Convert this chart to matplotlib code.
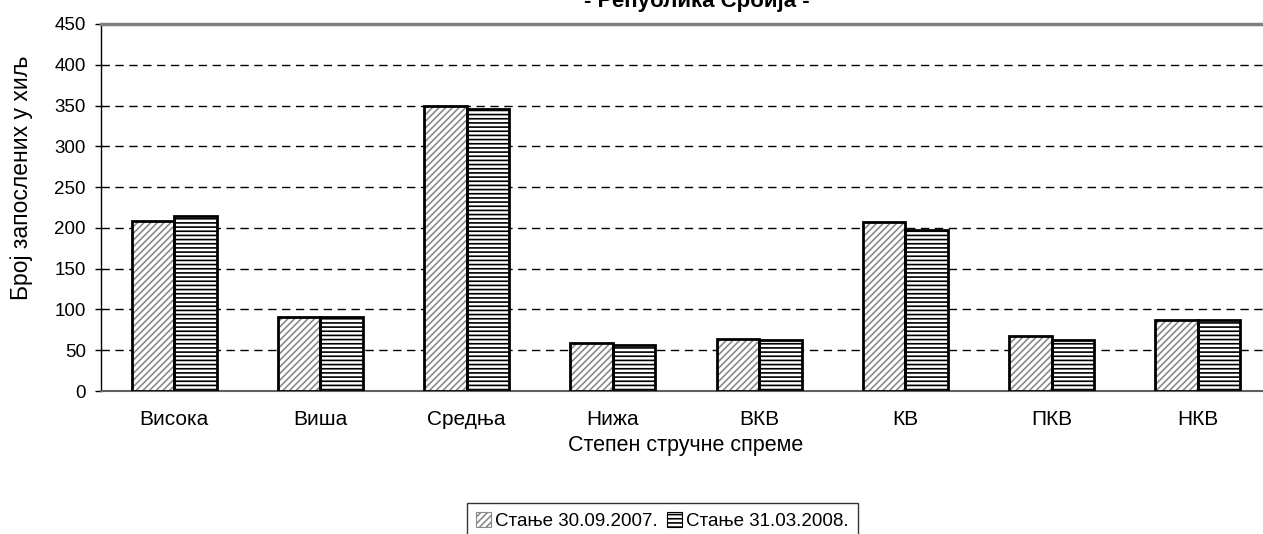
import numpy as np
import matplotlib
matplotlib.use('Agg')
import matplotlib.pyplot as plt
from matplotlib.patches import Patch

plt.rcParams['font.family'] = ['Liberation Sans', 'DejaVu Sans']

# ----------------------------------------------------------------
# Data
# ----------------------------------------------------------------
categories = ['Висока', 'Виша', 'Средња', 'Нижа', 'ВКВ', 'КВ', 'ПКВ', 'НКВ']
stanje_2007 = [209, 91, 349, 59, 64, 207, 68, 87]
stanje_2008 = [215, 91, 346, 56, 62, 198, 62, 87]
series_labels = ['Стање 30.09.2007.', 'Стање 31.03.2008.']
yticks = [0, 50, 100, 150, 200, 250, 300, 350, 400, 450]

W, H = 1263, 534
fig = plt.figure(figsize=(W / 100, H / 100), dpi=100)
ax = fig.add_axes([101 / W, 1 - 391 / H, 1170 / W, 367 / H])

x = np.arange(len(categories))
bw = 0.29

plt.rcParams['hatch.linewidth'] = 1.2

# first series: fine diagonal gray hatch, black outline
ax.bar(x - bw / 2, stanje_2007, bw, color='white', edgecolor='#8a8a8a',
       hatch='/////', linewidth=0, zorder=3)
ax.bar(x - bw / 2, stanje_2007, bw, fill=False, edgecolor='black',
       linewidth=2, zorder=4)
# second series: horizontal black lines
ax.bar(x + bw / 2, stanje_2008, bw, color='white', edgecolor='black',
       hatch='----', linewidth=0, zorder=3)
ax.bar(x + bw / 2, stanje_2008, bw, fill=False, edgecolor='black',
       linewidth=2, zorder=4)

ax.set_xlim(-0.5, len(categories) - 0.5)
ax.set_ylim(0, 450)
ax.set_yticks(yticks)
ax.set_xticks(x)
ax.set_xticklabels(categories)
ax.tick_params(axis='x', length=0, pad=14, labelsize=15)
ax.tick_params(axis='y', length=4, width=1, pad=7, labelsize=13.5, direction='out')

for v in yticks[1:-1]:
    ax.axhline(v, color='black', ls=(0, (6, 4)), lw=1, zorder=1)

ax.spines['right'].set_visible(False)
ax.spines['top'].set_color('#808080')
ax.spines['top'].set_linewidth(2.5)
ax.spines['bottom'].set_color('#606060')
ax.spines['bottom'].set_linewidth(1.5)
ax.spines['left'].set_color('black')
ax.spines['left'].set_linewidth(1)

ax.set_xlabel('Степен стручне спреме', fontsize=15.5, labelpad=4)

fig.text(22 / W, 1 - 300 / H, 'Број запослених у хиљ', rotation=90,
         ha='center', va='bottom', fontsize=16.5)

# title is cut off at the top of the picture
fig.text(697 / W, 1 - 7 / H, '- Република Србија -', ha='center',
         va='baseline', fontsize=16, fontweight='bold')

handles = [Patch(facecolor='white', edgecolor='#8a8a8a', hatch='/////', linewidth=0.8),
           Patch(facecolor='white', edgecolor='black', hatch='----', linewidth=0.8)]
leg = fig.legend(handles, series_labels, ncol=2, loc='upper left',
                 bbox_to_anchor=(467 / W, 1 - 503 / H), fontsize=13.5,
                 frameon=True, fancybox=False, edgecolor='black',
                 handlelength=0.8, handleheight=0.8, handletextpad=0.2,
                 columnspacing=0.5, borderpad=0.5, borderaxespad=0)
leg.get_frame().set_linewidth(1)

plt.savefig('out.png', dpi=100)
plt.close()
